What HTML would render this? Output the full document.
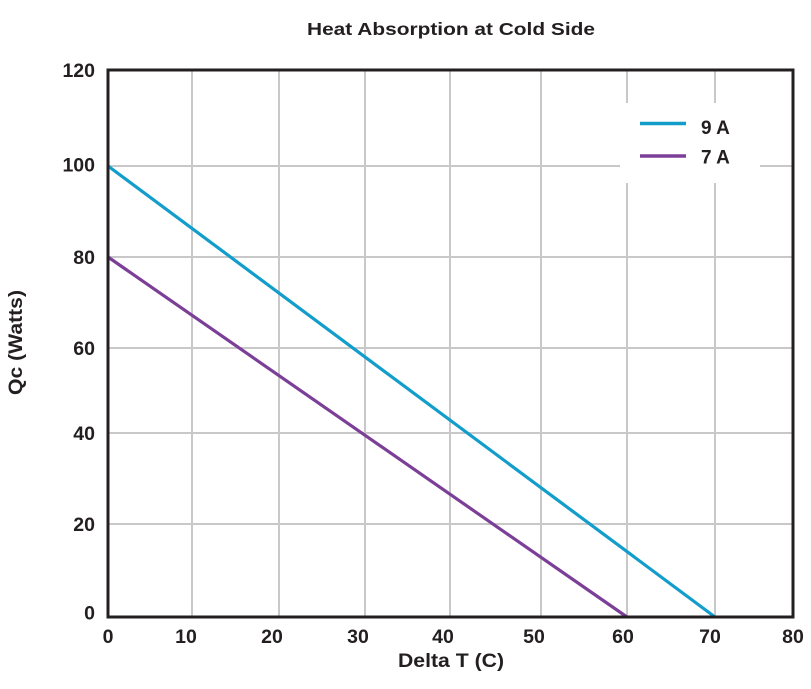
<!DOCTYPE html>
<html>
<head>
<meta charset="utf-8">
<style>
  html, body { margin: 0; padding: 0; background: #ffffff; }
  svg { display: block; }
  text { font-family: "Liberation Sans", sans-serif; font-weight: bold; fill: #231f20; }
</style>
</head>
<body>
<svg width="811" height="689" viewBox="0 0 811 689" xmlns="http://www.w3.org/2000/svg">
  <rect x="0" y="0" width="811" height="689" fill="#ffffff"/>

  <!-- Title -->
  <text x="451" y="35" font-size="17.5" text-anchor="middle" textLength="288" lengthAdjust="spacingAndGlyphs">Heat Absorption at Cold Side</text>

  <!-- Grid lines -->
  <g stroke="#c8c8c8" stroke-width="2">
    <line x1="192" y1="70" x2="192" y2="617"/>
    <line x1="279" y1="70" x2="279" y2="617"/>
    <line x1="365" y1="70" x2="365" y2="617"/>
    <line x1="450" y1="70" x2="450" y2="617"/>
    <line x1="541" y1="70" x2="541" y2="617"/>
    <line x1="627" y1="70" x2="627" y2="617"/>
    <line x1="715" y1="70" x2="715" y2="617"/>
    <line x1="108" y1="166" x2="793" y2="166"/>
    <line x1="108" y1="257" x2="793" y2="257"/>
    <line x1="108" y1="348" x2="793" y2="348"/>
    <line x1="108" y1="433" x2="793" y2="433"/>
    <line x1="108" y1="524" x2="793" y2="524"/>
  </g>

  <!-- Legend background -->
  <rect x="620" y="103" width="140" height="80" fill="#ffffff"/>

  <!-- Series -->
  <line x1="108" y1="166" x2="715" y2="617" stroke="#129dcb" stroke-width="3.2"/>
  <line x1="108" y1="257" x2="627" y2="617" stroke="#7c3f98" stroke-width="3.2"/>

  <!-- Axes box -->
  <rect x="108" y="70" width="685" height="547" fill="none" stroke="#231f20" stroke-width="3"/>

  <!-- Legend -->
  <line x1="640" y1="123.5" x2="686" y2="123.5" stroke="#129dcb" stroke-width="3.5"/>
  <line x1="640" y1="156" x2="686" y2="156" stroke="#7c3f98" stroke-width="3.5"/>
  <text x="701" y="134" font-size="19">9 A</text>
  <text x="701" y="163.5" font-size="19">7 A</text>

  <!-- Y tick labels -->
  <g font-size="19.5" text-anchor="end">
    <text x="95" y="77">120</text>
    <text x="95" y="171.5">100</text>
    <text x="95" y="264">80</text>
    <text x="95" y="355">60</text>
    <text x="95" y="440">40</text>
    <text x="95" y="531">20</text>
    <text x="95" y="619.5">0</text>
  </g>

  <!-- X tick labels -->
  <g font-size="19.5" text-anchor="middle">
    <text x="108" y="643">0</text>
    <text x="186" y="643">10</text>
    <text x="272" y="643">20</text>
    <text x="358" y="643">30</text>
    <text x="443" y="643">40</text>
    <text x="534" y="643">50</text>
    <text x="623" y="643">60</text>
    <text x="710" y="643">70</text>
    <text x="793" y="643">80</text>
  </g>

  <!-- Axis titles -->
  <text x="451" y="667" font-size="19.5" text-anchor="middle" textLength="106" lengthAdjust="spacingAndGlyphs">Delta T (C)</text>
  <text transform="translate(22,342.5) rotate(-90)" x="0" y="0" font-size="19.5" text-anchor="middle" textLength="105" lengthAdjust="spacingAndGlyphs">Qc (Watts)</text>
</svg>
</body>
</html>
